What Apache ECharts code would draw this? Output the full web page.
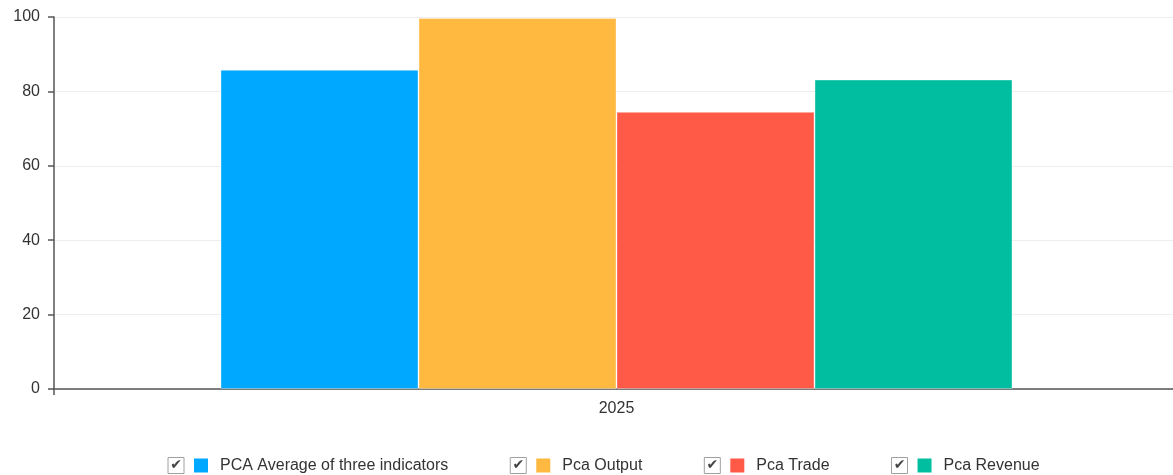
<!DOCTYPE html>
<html>
<head>
<meta charset="utf-8">
<script src="https://cdn.jsdelivr.net/npm/echarts@6/dist/echarts.min.js"></script>
<style>
  html, body { margin: 0; padding: 0; background: #fff; }
  #chart { width: 1173px; height: 475px; }
</style>
</head>
<body>
<div id="chart"></div>
<script>
// data
const categories = ['2025']
const seriesNames = ['PCA Average of three indicators', 'Pca Output', 'Pca Trade', 'Pca Revenue']
const seriesValues = [[85.8], [99.7], [74.5], [83.2]]
const yTicks = { min: 0, max: 100, interval: 20 }
const colors = ['#00a9ff', '#ffb840', '#ff5a48', '#00be9f']

const chart = echarts.init(document.getElementById('chart'))

const font = 'Liberation Sans, Arial, sans-serif'

// legend rich styles: checkbox + colored square + name
const rich = {
  box: {
    width: 16, height: 16, lineHeight: 18,
    borderColor: '#a0a0a0', borderWidth: 1,
    align: 'center', color: '#444', fontSize: 14,
    fontFamily: 'DejaVu Sans'
  },
  gap: { width: 10 },
  gap2: { width: 12 },
  name: { fontSize: 16, color: '#333', fontFamily: font }
}
colors.forEach((c, i) => {
  rich['sq' + i] = { width: 14, height: 14, backgroundColor: c }
})

const option = {
  animation: false,
  grid: { left: 54, width: 1125, top: 17, bottom: 86, outerBoundsMode: 'none' },
  legend: {
    top: 452,
    left: 157,
    itemWidth: 0,
    itemHeight: 0,
    itemGap: 56,
    formatter: name => {
      const i = seriesNames.indexOf(name)
      return '{box|✔}{gap|}{sq' + i + '|}{gap2|}{name|' + name + '}'
    },
    textStyle: { rich: rich }
  },
  xAxis: {
    type: 'category',
    data: categories,
    axisLine: { lineStyle: { color: '#555', width: 1.5 } },
    axisTick: { show: true, length: 6, lineStyle: { color: '#555', width: 1.5 } },
    axisLabel: { color: '#333', fontSize: 16, margin: 12, fontFamily: font }
  },
  yAxis: {
    type: 'value',
    min: yTicks.min,
    max: yTicks.max,
    interval: yTicks.interval,
    axisLine: { show: true, lineStyle: { color: '#555', width: 1.5 } },
    axisTick: { show: true, length: 6, lineStyle: { color: '#555', width: 1.5 } },
    axisLabel: { color: '#333', fontSize: 16, margin: 14, fontFamily: font },
    splitLine: { lineStyle: { color: '#eeeeee' } }
  },
  series: seriesNames.map((name, i) => ({
    name: name,
    type: 'bar',
    data: seriesValues[i],
    barWidth: 198,
    barGap: '0%',
    itemStyle: {
      color: colors[i],
      borderColor: 'rgba(255,255,255,0.35)',
      borderWidth: 1
    }
  }))
}

chart.setOption(option)
</script>
</body>
</html>
